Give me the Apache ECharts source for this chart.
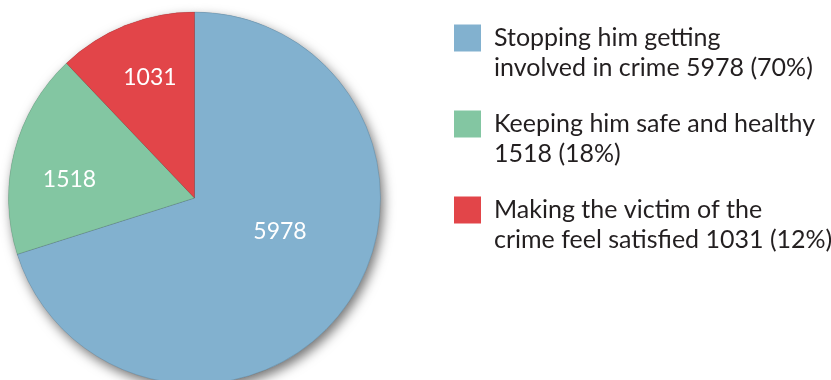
<!DOCTYPE html>
<html>
<head>
<meta charset="utf-8">
<script src="https://cdn.jsdelivr.net/npm/echarts@6/dist/echarts.min.js"></script>
<style>
  html, body { margin: 0; padding: 0; background: #fff; }
  #chart { width: 831px; height: 380px; }
</style>
</head>
<body>
<div id="chart"></div>
<script>
// Survey answers: what the sentence should achieve
const categories = [
  'Stopping him getting\ninvolved in crime',
  'Keeping him safe and healthy\n',
  'Making the victim of the\ncrime feel satisfied'
];
const counts = [5978, 1518, 1031];
const colors = ['#82b1cf', '#83c6a2', '#e24549'];

// nudges for the in-slice value labels
const labelNudge = [[8, -23], [-32, 5], [-9, -31]];

const total = counts.reduce((a, b) => a + b, 0);
const pieData = categories.map((name, i) => ({
  name: name,
  value: counts[i],
  itemStyle: { color: colors[i] },
  label: { offset: labelNudge[i] }
}));

const font = 'Lato';
const chart = echarts.init(document.getElementById('chart'), null, { renderer: 'canvas' });
chart.setOption({
  animation: false,
  legend: {
    orient: 'vertical',
    left: 449,
    top: -12,
    itemWidth: 27,
    itemHeight: 27,
    itemGap: -4,
    icon: 'rect',
    selectedMode: false,
    data: categories,
    formatter: function (name) {
      const i = categories.indexOf(name);
      const pct = Math.round(counts[i] / total * 100);
      const sep = name.endsWith('\n') ? '' : ' ';
      // leading blank line keeps the first text line level with the swatch
      return ' \n' + name + sep + counts[i] + ' (' + pct + '%)';
    },
    textStyle: {
      fontFamily: font,
      fontSize: 25,
      color: '#231f20',
      lineHeight: 30,
      padding: [0, 0, 0, 8]
    }
  },
  series: [
    {
      // base layer that casts the drop shadow of the whole disc
      type: 'pie',
      center: [194.5, 198],
      radius: 186,
      startAngle: 90,
      clockwise: true,
      silent: true,
      label: { show: false },
      labelLine: { show: false },
      itemStyle: {
        shadowBlur: 12,
        shadowOffsetX: 3,
        shadowOffsetY: 5,
        shadowColor: 'rgba(0,0,0,0.55)'
      },
      data: pieData.map(d => ({ name: d.name, value: d.value, itemStyle: d.itemStyle }))
    },
    {
      type: 'pie',
      center: [194.5, 198],
      radius: 186,
      startAngle: 90,
      clockwise: true,
      silent: true,
      itemStyle: {
        borderColor: 'rgba(40,40,40,0.3)',
        borderWidth: 0.5
      },
      label: {
        show: true,
        position: 'inside',
        formatter: '{c}',
        color: '#ffffff',
        fontFamily: font,
        fontSize: 23
      },
      labelLine: { show: false },
      data: pieData
    }
  ]
});
</script>
</body>
</html>
